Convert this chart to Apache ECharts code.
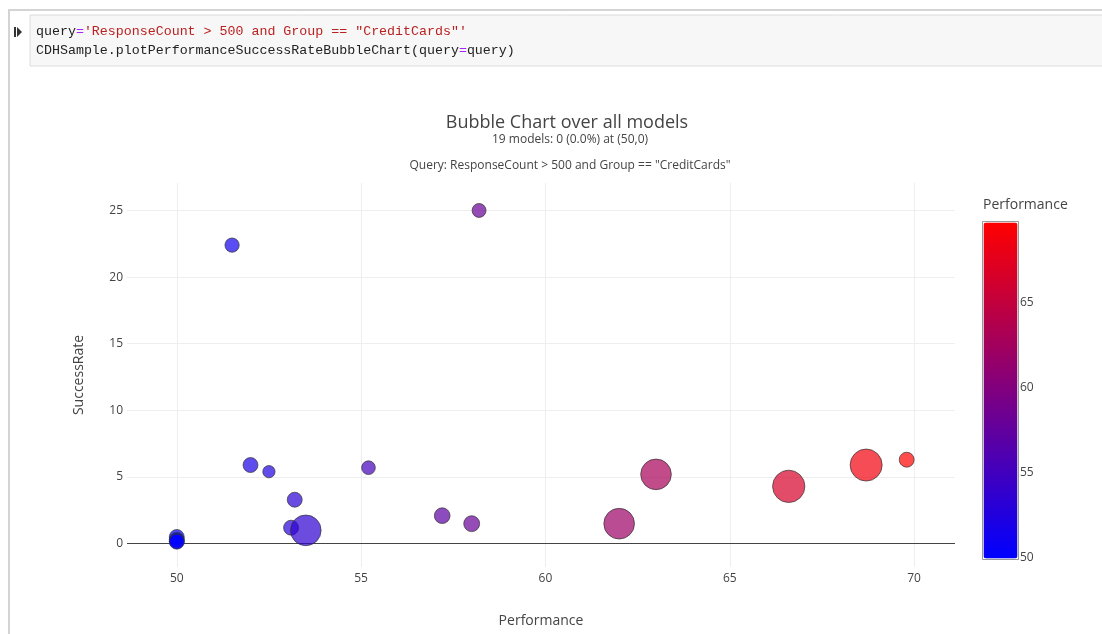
<!DOCTYPE html>
<html>
<head>
<meta charset="utf-8">
<script src="https://cdn.jsdelivr.net/npm/echarts@6/dist/echarts.min.js"></script>
<style>
  html, body { margin: 0; padding: 0; background: #fff; }
  #chart { width: 1102px; height: 634px; }
</style>
</head>
<body>
<div id="chart"></div>
<script>
// model performance (AUC) per model
const performance = [58.2, 51.5, 52.0, 52.5, 55.2, 53.2, 53.1, 53.5, 50.0, 50.0, 50.0, 50.0, 57.2, 58.0, 62.0, 63.0, 66.6, 68.7, 69.8];
// success rate (%) per model
const successRate = [25.0, 22.4, 5.9, 5.4, 5.7, 3.3, 1.2, 1.0, 0.5, 0.3, 0.2, 0.15, 2.1, 1.5, 1.5, 5.2, 4.3, 5.9, 6.3];
// response count per model (bubble size)
const responseCount = [1000, 1050, 1150, 780, 970, 1150, 1150, 4850, 1150, 1150, 1150, 1150, 1270, 1300, 4850, 4850, 5400, 5300, 1150];

const titleText = "Bubble Chart over all models";
const subTitleText = performance.length + " models: 0 (0.0%) at (50,0)";
const queryText = 'Query: ResponseCount > 500 and Group == "CreditCards"';
const colorbarTitle = "Performance";

const FONT = '"Open Sans", sans-serif';
const MONO = '"Liberation Mono", "DejaVu Sans Mono", monospace';
const GRID = "#eee";
const NONE = "rgba(0,0,0,0)";

const chart = echarts.init(document.getElementById("chart"));

const seriesData = performance.map(function (p, i) {
  return [p, successRate[i], responseCount[i]];
});

chart.setOption({
  animation: false,
  textStyle: { fontFamily: FONT },
  graphic: [
    // notebook cell frame
    { type: "rect", shape: { x: 9, y: 10, width: 1200, height: 700 }, style: { fill: "none", stroke: "#d4d4d4", lineWidth: 2 } },
    { type: "rect", shape: { x: 30, y: 15, width: 1100, height: 51 }, style: { fill: "#f7f7f7", stroke: "#dcdcdc", lineWidth: 1 } },
    { type: "rect", shape: { x: 14, y: 27, width: 2, height: 10 }, style: { fill: "#333" } },
    { type: "polygon", shape: { points: [[17, 27], [22, 32], [17, 37]] }, style: { fill: "#333" } },
    {
      type: "text",
      x: 36, y: 31,
      style: {
        text: "{k|query}{o|=}{s|'ResponseCount > 500 and Group == \"CreditCards\"'}",
        verticalAlign: "middle",
        rich: {
          k: { fontFamily: MONO, fontSize: 13.3, fill: "#222" },
          o: { fontFamily: MONO, fontSize: 13.3, fill: "#aa22ff" },
          s: { fontFamily: MONO, fontSize: 13.3, fill: "#ba2121" }
        }
      }
    },
    {
      type: "text",
      x: 36, y: 50,
      style: {
        text: "{k|CDHSample.plotPerformanceSuccessRateBubbleChart(query}{o|=}{k|query)}",
        verticalAlign: "middle",
        rich: {
          k: { fontFamily: MONO, fontSize: 13.3, fill: "#222" },
          o: { fontFamily: MONO, fontSize: 13.3, fill: "#aa22ff" }
        }
      }
    },
    // titles
    { type: "text", x: 567, y: 123, style: { text: titleText, fontFamily: FONT, fontSize: 18, fill: "#444", align: "center", verticalAlign: "middle" } },
    { type: "text", x: 570, y: 140, style: { text: subTitleText, fontFamily: FONT, fontSize: 12, fill: "#444", align: "center", verticalAlign: "middle" } },
    { type: "text", x: 570, y: 166, style: { text: queryText, fontFamily: FONT, fontSize: 12, fill: "#444", align: "center", verticalAlign: "middle" } },
    { type: "text", x: 983, y: 205, style: { text: colorbarTitle, fontFamily: FONT, fontSize: 14, fill: "#444", align: "left", verticalAlign: "middle" } }
  ],
  grid: [
    { left: 127, right: 147, top: 183, bottom: 67 },
    { left: 983, width: 34, top: 222, height: 336 }
  ],
  xAxis: [
    {
      type: "value",
      gridIndex: 0,
      min: 48.65,
      max: 71.11,
      splitNumber: 5,
      name: "Performance",
      nameLocation: "middle",
      nameGap: 47,
      nameTextStyle: { fontSize: 14, color: "#444" },
      axisLine: { show: false },
      axisTick: { show: false },
      axisLabel: { color: "#444", fontSize: 12, margin: 6, showMinLabel: false, showMaxLabel: false },
      // edge lines (min / max) hidden, inner ticks light grey
      splitLine: { lineStyle: { color: [NONE, GRID, GRID, GRID, GRID, GRID, NONE] } }
    },
    { type: "value", gridIndex: 1, show: false, min: 0, max: 1 }
  ],
  yAxis: [
    {
      type: "value",
      gridIndex: 0,
      min: -1.75,
      max: 27.06,
      splitNumber: 6,
      name: "SuccessRate",
      nameLocation: "middle",
      nameGap: 41,
      nameTextStyle: { fontSize: 14, color: "#444" },
      axisLine: { show: false },
      axisTick: { show: false },
      axisLabel: { color: "#444", fontSize: 12, margin: 4, showMinLabel: false, showMaxLabel: false },
      splitLine: { lineStyle: { color: [NONE, GRID, GRID, GRID, GRID, GRID, GRID, NONE] } }
    },
    {
      type: "value",
      gridIndex: 1,
      position: "right",
      min: 50,
      max: 69.7,
      interval: 5,
      axisLine: { show: false },
      axisTick: { show: false },
      splitLine: { show: false },
      axisLabel: { color: "#444", fontSize: 12, margin: 3, showMaxLabel: false }
    }
  ],
  visualMap: {
    type: "continuous",
    seriesIndex: 0,
    dimension: 0,
    min: 50,
    max: 69.7,
    calculable: false,
    left: 982,
    top: 221,
    itemWidth: 34,
    itemHeight: 336,
    padding: 1,
    text: null,
    borderColor: "#999",
    borderWidth: 1,
    inRange: { color: ["#0000ff", "#ff0000"] }
  },
  series: [
    {
      type: "scatter",
      xAxisIndex: 0,
      yAxisIndex: 0,
      z: 3,
      data: seriesData,
      symbolSize: function (v) {
        return Math.sqrt(v[2]) * 0.44;
      },
      itemStyle: { opacity: 0.7, borderColor: "#333", borderWidth: 1 },
      markLine: {
        silent: true,
        symbol: "none",
        z: 1,
        label: { show: false },
        lineStyle: { color: "#444", width: 1, type: "solid" },
        data: [{ yAxis: 0 }]
      }
    }
  ]
});
</script>
</body>
</html>
